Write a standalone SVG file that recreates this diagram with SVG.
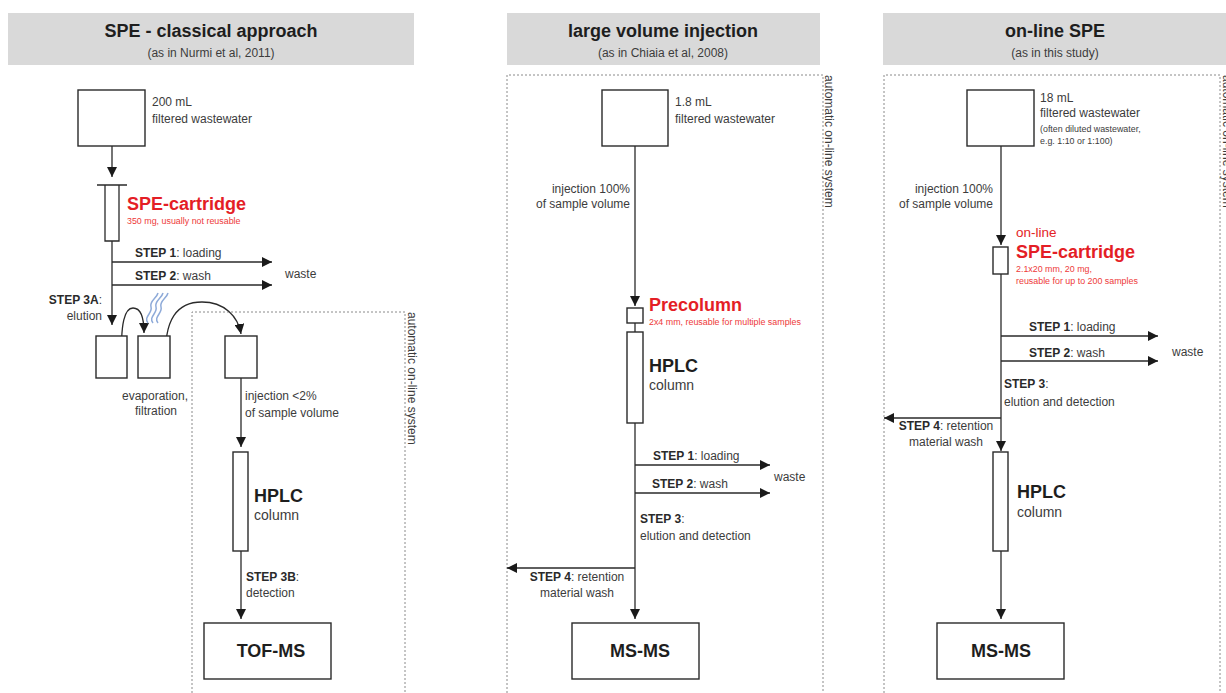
<svg xmlns="http://www.w3.org/2000/svg" width="1226" height="693" viewBox="0 0 1226 693">
<defs>
<marker id="ah" viewBox="0 0 10 10" refX="10" refY="5" markerWidth="10" markerHeight="10" markerUnits="userSpaceOnUse" orient="auto">
<path d="M0,0 L10,5 L0,10 z" fill="#1a1a1a"/>
</marker>
<style>
text{font-family:"Liberation Sans",Arial,sans-serif;fill:#3c3c3c;font-size:12px}
.hdr{fill:#d9d9d9}
.t{font-size:18px;font-weight:bold;fill:#1e1e1e;text-anchor:middle}
.st{font-size:12px;text-anchor:middle}
.b{font-weight:bold;fill:#2a2a2a}
.big{font-size:18px;font-weight:bold;fill:#1e1e1e}
.col{font-size:14px}
.red{font-size:18px;font-weight:bold;fill:#e41e26}
.rs{font-size:8.9px;fill:#ee3a3a}
.sm{font-size:8.9px}
.box{fill:#fff;stroke:#2a2a2a;stroke-width:1.4}
.ln{fill:none;stroke:#2a2a2a;stroke-width:1.3}
.ar{fill:none;stroke:#2a2a2a;stroke-width:1.3;marker-end:url(#ah)}
.dot{fill:none;stroke:#8a8a8a;stroke-width:1;stroke-dasharray:2,2}
.wave{fill:none;stroke:#8fabd9;stroke-width:1.5}
.mid{text-anchor:middle}
.end{text-anchor:end}
</style>
</defs>

<!-- headers -->
<g id="header1"><rect class="hdr" x="8" y="13" width="406" height="52"/><text class="t" x="211" y="37">SPE - classical approach</text><text class="st" x="211" y="57">(as in Nurmi et al, 2011)</text></g>
<g id="header2"><rect class="hdr" x="507" y="13" width="313" height="52"/><text class="t" x="663" y="37">large volume injection</text><text class="st" x="663" y="57">(as in Chiaia et al, 2008)</text></g>
<g id="header3"><rect class="hdr" x="883" y="13" width="343" height="52"/><text class="t" x="1055" y="37">on-line SPE</text><text class="st" x="1055" y="57">(as in this study)</text></g>

<!-- automatic regions -->
<g id="auto1"><path class="dot" d="M192,693 V312 H405 V693"/><text transform="translate(408,312) rotate(90)">automatic on-line system</text></g>
<g id="auto2"><path class="dot" d="M507,693 V75 H823 V693"/><text transform="translate(825,75) rotate(90)">automatic on-line system</text></g>
<g id="auto3"><path class="dot" d="M884,693 V75 H1220 V693"/><text transform="translate(1223,75) rotate(90)">automatic on-line system</text></g>

<!-- connectors -->
<g id="connectors">
<path class="ar" d="M112,146 V177"/>
<path class="ar" d="M112,241 V325"/>
<path class="ar" d="M112,262 H272"/>
<path class="ar" d="M112,285 H272"/>
<path class="ar" d="M122,363 C120,322 125,308 133,308 C141,308 144,318 144,333"/>
<path class="ar" d="M166,363 C163,318 178,302 202,302 C224,302 238,316 241,334"/>
<path class="ar" d="M241,378 V447"/>
<path class="ar" d="M241,551 V619"/>

<path class="ar" d="M635,146 V306"/>
<path class="ln" d="M635,323 V332"/>
<path class="ar" d="M635,423 V619"/>
<path class="ar" d="M635,465 H770"/>
<path class="ar" d="M635,493 H770"/>
<path class="ar" d="M635,568 H507"/>

<path class="ar" d="M1001,146 V245"/>
<path class="ar" d="M1001,274 V451"/>
<path class="ar" d="M1001,551 V619"/>
<path class="ar" d="M1001,336 H1158"/>
<path class="ar" d="M1001,361 H1158"/>
<path class="ar" d="M1001,418 H884"/>
</g>

<!-- left panel nodes -->
<g id="sample1"><rect class="box" x="78" y="90" width="67" height="56"/><text x="152" y="106">200 mL</text><text x="152" y="123">filtered wastewater</text></g>
<g id="spe1"><path class="ln" d="M97,185 H127 M105,185 V241 H119 V185" stroke-width="1.5"/><text class="red" x="127" y="210">SPE-cartridge</text><text class="rs" x="127" y="224">350 mg, usually not reusable</text></g>
<g id="steps1"><text x="135" y="257"><tspan class="b">STEP 1</tspan>: loading</text><text x="135" y="280"><tspan class="b">STEP 2</tspan>: wash</text><text x="285" y="278">waste</text><text class="end" x="102" y="304"><tspan class="b">STEP 3A</tspan>:</text><text class="end" x="102" y="320">elution</text></g>
<g id="vial1"><rect class="box" x="96" y="336" width="31" height="42"/></g>
<g id="vial2"><rect class="box" x="138" y="336" width="32" height="42"/><path class="wave" d="M148,323 C143,317 153,313 151,307 C149,301 157,298 158,293"/><path class="wave" d="M153,323 C148,317 158,313 156,307 C154,301 162,298 163,293"/><path class="wave" d="M158,323 C153,317 163,313 161,307 C159,301 167,298 168,293"/><text class="mid" x="155" y="400">evaporation,</text><text class="mid" x="156" y="415">filtration</text></g>
<g id="vial3"><rect class="box" x="225" y="336" width="32" height="42"/><text x="245" y="400">injection &lt;2%</text><text x="245" y="417">of sample volume</text></g>
<g id="hplc1"><rect class="box" x="233" y="452" width="15" height="99"/><text class="big" x="254" y="502">HPLC</text><text class="col" x="254" y="520">column</text><text x="246" y="581"><tspan class="b">STEP 3B</tspan>:</text><text x="246" y="597">detection</text></g>
<g id="tofms"><rect class="box" x="204" y="623" width="127" height="56"/><text class="big mid" x="271" y="657">TOF-MS</text></g>

<!-- middle panel nodes -->
<g id="sample2"><rect class="box" x="602" y="90" width="66" height="56"/><text x="675" y="106">1.8 mL</text><text x="675" y="123">filtered wastewater</text><text class="end" x="630" y="193">injection 100%</text><text class="end" x="630" y="208">of sample volume</text></g>
<g id="precol"><rect class="box" x="627" y="308" width="16" height="15"/><text class="red" x="649" y="311">Precolumn</text><text class="rs" x="649" y="325">2x4 mm, reusable  for multiple samples</text></g>
<g id="hplc2"><rect class="box" x="627" y="332" width="16" height="91"/><text class="big" x="649" y="372">HPLC</text><text class="col" x="649" y="390">column</text></g>
<g id="steps2"><text x="653" y="460"><tspan class="b">STEP 1</tspan>: loading</text><text x="652" y="488"><tspan class="b">STEP 2</tspan>: wash</text><text x="774" y="481">waste</text><text x="640" y="523"><tspan class="b">STEP 3</tspan>:</text><text x="640" y="540">elution and detection</text><text class="mid" x="577" y="581"><tspan class="b">STEP 4</tspan>: retention</text><text class="mid" x="577" y="597">material wash</text></g>
<g id="msms2"><rect class="box" x="572" y="623" width="127" height="56"/><text class="big mid" x="640" y="657">MS-MS</text></g>

<!-- right panel nodes -->
<g id="sample3"><rect class="box" x="967" y="90" width="67" height="56"/><text x="1040" y="102">18 mL</text><text x="1040" y="117">filtered wastewater</text><text class="sm" x="1040" y="132">(often diluted wastewater,</text><text class="sm" x="1040" y="144">e.g. 1:10 or 1:100)</text><text class="end" x="993" y="193">injection 100%</text><text class="end" x="993" y="208">of sample volume</text></g>
<g id="spe3"><rect class="box" x="993" y="247" width="15" height="27"/><text x="1016" y="237" style="font-size:13.5px;fill:#e41e26">on-line</text><text class="red" x="1016" y="258">SPE-cartridge</text><text class="rs" x="1016" y="272">2.1x20 mm, 20 mg,</text><text class="rs" x="1016" y="284">reusable for up to 200 samples</text></g>
<g id="steps3"><text x="1029" y="331"><tspan class="b">STEP 1</tspan>: loading</text><text x="1029" y="357"><tspan class="b">STEP 2</tspan>: wash</text><text x="1172" y="356">waste</text><text x="1004" y="388"><tspan class="b">STEP 3</tspan>:</text><text x="1004" y="406">elution and detection</text><text class="mid" x="946" y="430"><tspan class="b">STEP 4</tspan>: retention</text><text class="mid" x="946" y="446">material wash</text></g>
<g id="hplc3"><rect class="box" x="993" y="452" width="15" height="99"/><text class="big" x="1017" y="498">HPLC</text><text class="col" x="1017" y="517">column</text></g>
<g id="msms3"><rect class="box" x="937" y="623" width="127" height="56"/><text class="big mid" x="1001" y="657">MS-MS</text></g>
</svg>
